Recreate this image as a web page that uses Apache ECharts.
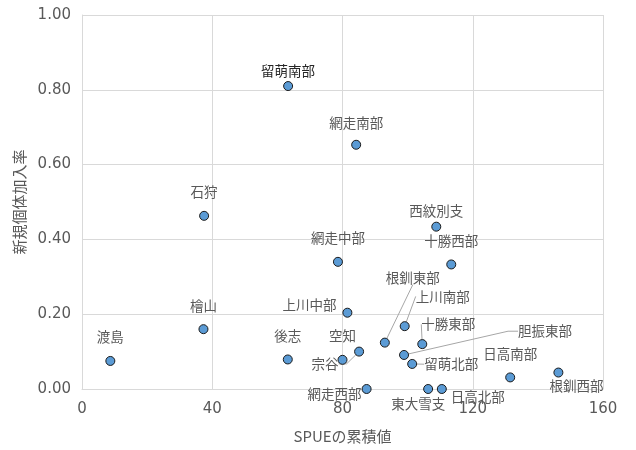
<!DOCTYPE html>
<html>
<head>
<meta charset="utf-8">
<script src="https://cdn.jsdelivr.net/npm/echarts@6/dist/echarts.min.js"></script>
<style>
    html, body { margin: 0; padding: 0; background: #fff; }
    #chart { width: 636px; height: 450px; }
</style>
</head>
<body>
<div id="chart"></div>
<script>
    // 地区名
    var names = ['渡島', '檜山', '石狩', '後志', '留萌南部', '網走南部', '網走中部', '上川中部',
        '空知', '宗谷', '網走西部', '根釧東部', '上川南部', '十勝東部', '胆振東部', '留萌北部',
        '東大雪支', '日高北部', '西紋別支', '十勝西部', '日高南部', '根釧西部'];
    // SPUEの累積値
    var spueValues = [8.7, 37.3, 37.5, 63.2, 63.3, 84.2, 78.6, 81.5,
        80.0, 85.1, 87.4, 93.0, 99.1, 104.5, 98.9, 101.4,
        106.3, 110.5, 108.8, 113.4, 131.5, 146.3];
    // 新規個体加入率
    var rateValues = [0.075, 0.160, 0.463, 0.079, 0.810, 0.653, 0.340, 0.204,
        0.078, 0.100, 0.000, 0.124, 0.168, 0.120, 0.091, 0.067,
        0.000, 0.000, 0.434, 0.333, 0.031, 0.044];

    var xTicks = [0, 40, 80, 120, 160];
    var yTicks = [0, 0.2, 0.4, 0.6, 0.8, 1.0];

    // ラベル位置の調整 (dx, dy) と引き出し線
    var labelMoves = {
        '留萌南部': [0, 9],
        '西紋別支': [0, 8],
        '網走南部': [0, 2],
        '上川中部': [-38, 16],
        '宗谷': [-34, 36],
        '網走西部': [-32, 29],
        '根釧東部': [28, -41],
        '上川南部': [38, -6],
        '十勝東部': [26, 4],
        '胆振東部': [141, 0],
        '留萌北部': [39, 24],
        '東大雪支': [-10, 39],
        '日高北部': [36, 32],
        '根釧西部': [18, 37]
    };
    var leaders = {'宗谷': 8, '根釧東部': 0, '上川南部': 0, '十勝東部': 0, '胆振東部': 10, '留萌北部': 0};

    var points = names.map(function (n, i) {
        var item = {name: n, value: [spueValues[i], rateValues[i]]};
        if (leaders[n] !== undefined) {
            item.labelLine = {show: true, length2: leaders[n], lineStyle: {color: '#a6a6a6', width: 1}};
        }
        if (n === '留萌南部') {
            item.label = {color: '#262626'};
        }
        return item;
    });

    var chart = echarts.init(document.getElementById('chart'));
    chart.setOption({
        animation: false,
        grid: {left: 82, right: 33, top: 15, bottom: 61},
        xAxis: {
            type: 'value',
            min: xTicks[0],
            max: xTicks[xTicks.length - 1],
            interval: 40,
            name: 'SPUEの累積値',
            nameLocation: 'middle',
            nameGap: 40,
            nameTextStyle: {color: '#595959', fontSize: 15, fontFamily: 'Noto Sans CJK JP'},
            axisLine: {show: true, lineStyle: {color: '#d9d9d9'}},
            axisTick: {show: false},
            axisLabel: {color: '#595959', fontSize: 15, fontFamily: 'DejaVu Sans', margin: 13},
            splitLine: {show: true, lineStyle: {color: '#d9d9d9'}}
        },
        yAxis: {
            type: 'value',
            min: yTicks[0],
            max: yTicks[yTicks.length - 1],
            interval: 0.2,
            name: '新規個体加入率',
            nameLocation: 'middle',
            nameGap: 50,
            nameTextStyle: {color: '#595959', fontSize: 15, fontFamily: 'Noto Sans CJK JP'},
            axisLine: {show: true, lineStyle: {color: '#d9d9d9'}},
            axisTick: {show: false},
            axisLabel: {
                color: '#595959', fontSize: 15, fontFamily: 'DejaVu Sans', margin: 11,
                formatter: function (v) { return v.toFixed(2); }
            },
            splitLine: {show: true, lineStyle: {color: '#d9d9d9'}}
        },
        series: [{
            type: 'scatter',
            symbolSize: 9,
            itemStyle: {color: '#5b9bd5', borderColor: '#1a1a1a', borderWidth: 1, opacity: 1},
            label: {
                show: true,
                position: 'top',
                distance: 12,
                formatter: '{b}',
                color: '#595959',
                fontSize: 13.5,
                fontFamily: 'Noto Sans CJK JP'
            },
            labelLayout: function (params) {
                var m = labelMoves[names[params.dataIndex]];
                return m ? {dx: m[0], dy: m[1]} : {};
            },
            data: points
        }]
    });
</script>
</body>
</html>
